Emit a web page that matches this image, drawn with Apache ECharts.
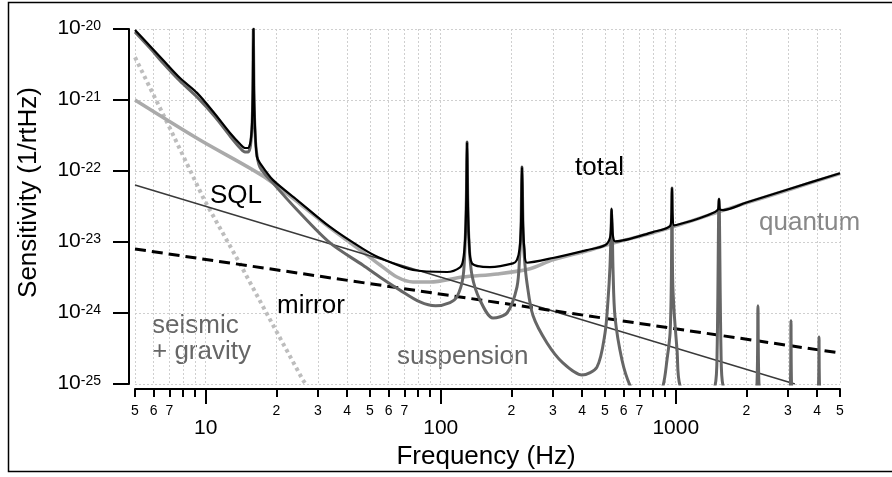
<!DOCTYPE html>
<html><head><meta charset="utf-8">
<script src="https://cdn.jsdelivr.net/npm/echarts@6/dist/echarts.min.js"></script>
<style>html,body{margin:0;padding:0;background:#fff}#c{width:892px;height:477px}</style>
</head><body><div id="c"></div>
<script>
// ---- tick values ----
const xMinorTicks = [5,6,7,8,9,10,20,30,40,50,60,70,80,90,100,200,300,400,500,600,700,800,900,1000,2000,3000,4000,5000];
const xMinorLabels = [5,6,7,20,30,40,50,60,70,200,300,400,500,600,700,2000,3000,4000,5000];
const xMajorLabels = [10,100,1000];
const yTicks = [1e-25,1e-24,1e-23,1e-22,1e-21,1e-20];

// ---- series values [frequency Hz, sensitivity 1/rtHz] ----
const seismic = [[5,4.0e-21],[7.04,4.0e-22],[9.86,3.9e-23],[14,4.9e-24],[18.8,8.0e-25],[25.9,1.14e-25],[26.6,1.0e-25]];
const sql = [[5,6.35e-23],[3215,1.0e-25]];
const mirror = [[5,7.97e-24],[5000,2.73e-25]];
const quantum = [[5,1e-21],[9.45,2.73e-22],[17.5,8.5e-23],[25.2,3.43e-23],[33.8,1.58e-23],[46.7,7.2e-24],[55.2,4.74e-24],[65.1,3.21e-24],[76.2,2.73e-24],[90,2.73e-24],[124,3.21e-24],[174,3.55e-24],[240,4.2e-24],[300,5.6e-24],[420,7.5e-24],[552,9.8e-24],[800,1.35e-23],[1043,1.76e-23],[1500,2.62e-23],[2000,3.55e-23],[3000,5.4e-23],[5000,9.2e-23]];
const suspension = [[5,9.1e-21],[5.79,5.4e-21],[6.58,3.32e-21],[7.77,1.85e-21],[9.18,1.1e-21],[10.95,5.8e-22],[12.69,3.11e-22],[14.0,2.11e-22],[14.7,1.85e-22],[15.13,1.85e-22],[15.43,2.1e-22],[15.6,2.8e-22],[15.75,4.5e-22],[15.86,1.3e-21],[15.95,1e-20],[16.04,1.3e-21],[16.18,4.2e-22],[16.4,2.0e-22],[17.0,1.14e-22],[19.3,6.8e-23],[24.5,2.82e-23],[33.8,9.7e-24],[46.7,4.7e-24],[55.2,3.2e-24],[67.1,2.1e-24],[81.6,1.43e-24],[95,1.26e-24],[109.5,1.4e-24],[117.3,1.7e-24],[124.4,3.2e-24],[127,1e-23],[128.5,4e-23],[129.4,2.56e-22],[130.3,4e-23],[131.9,1e-23],[135.8,3.4e-24],[146.9,1.52e-24],[166.9,8.5e-25],[191.4,1.0e-24],[211,2.32e-24],[216.5,6e-24],[219.5,1.6e-23],[221.7,1.14e-22],[224,1.6e-23],[227,6e-24],[232.8,2.65e-24],[246.9,9.2e-25],[283.3,3.78e-25],[331,1.98e-25],[399,1.34e-25],[462,1.73e-25],[500,5.2e-25],[515,1.52e-24],[525,4.5e-24],[531,1.5e-23],[533.5,2.92e-23],[537,1.5e-23],[541,4e-24],[551.5,8.8e-25],[590.5,2.18e-25],[639,9.5e-26],[700,6e-26],[820,6e-26],[883,9.5e-26],[918,2.2e-25],[946,5.2e-25],[958,3e-24],[964,5.76e-23],[970,3e-24],[985,1e-24],[1013,3e-25],[1043,9.5e-26],[1200,6e-26],[1470,9.5e-26],[1500,3e-25],[1528,4.03e-23],[1558,3e-25],[1589,9.5e-26],[1900,6e-26],[2215,9.5e-26],[2238,1.26e-24],[2262,9.5e-26],[2700,6e-26],[3075,9.5e-26],[3093,7.8e-25],[3111,9.5e-26],[3700,6e-26],[4050,9.5e-26],[4071,4.6e-25],[4092,9.5e-26],[5000,6e-26]];
const total = [[5,9.7e-21],[5.79,5.76e-21],[6.58,3.66e-21],[7.77,2.04e-21],[9.18,1.26e-21],[10.95,6.35e-22],[12.69,3.43e-22],[14.0,2.4e-22],[14.7,2.11e-22],[15.13,2.11e-22],[15.43,2.4e-22],[15.6,3.0e-22],[15.75,4.9e-22],[15.86,1.4e-21],[15.95,1e-20],[16.04,1.4e-21],[16.18,4.6e-22],[16.5,1.6e-22],[17.0,1.3e-22],[19.3,7.5e-23],[24.5,3.9e-23],[33.8,1.63e-23],[46.7,8e-24],[55.2,5.95e-24],[76.2,4.03e-24],[106.4,3.78e-24],[120.8,4.4e-24],[124.4,5.5e-24],[127,1.1e-23],[128.5,4.2e-23],[129.4,2.56e-22],[130.3,4.2e-23],[131.9,1.1e-23],[135.8,5.0e-24],[162,4.44e-24],[203,5.0e-24],[211,5.6e-24],[216.5,8e-24],[219.5,1.7e-23],[221.7,1.14e-22],[224,1.7e-23],[227,8e-24],[232.8,5.1e-24],[300,5.95e-24],[419,7.7e-24],[500,9.0e-24],[525,1.15e-23],[531,1.9e-23],[533.5,2.92e-23],[536,1.9e-23],[541,1.2e-23],[552,1.02e-23],[800,1.38e-23],[946,1.68e-23],[958,2.3e-23],[964,5.76e-23],[970,2.3e-23],[985,1.72e-23],[1043,1.79e-23],[1270,2.18e-23],[1470,2.65e-23],[1515,2.9e-23],[1528,4.03e-23],[1541,2.9e-23],[1589,2.82e-23],[2000,3.6e-23],[3000,5.5e-23],[5000,9.3e-23]];

const FONT = '"Liberation Sans", Arial, Helvetica, sans-serif';
function leadDigit(v){ const e = Math.floor(Math.log10(v) + 1e-9); return String(Math.round(v / Math.pow(10, e))); }

const chart = echarts.init(document.getElementById('c'), null, {renderer:'canvas'});
function lineSeries(name, data, color, width, type, z, smooth){
  return {name, type:'line', data, xAxisIndex:0, yAxisIndex:0, symbol:'none', showSymbol:false,
    smooth: smooth || false, clip:true, z,
    lineStyle:{color, width, type: type || 'solid', join:'round', cap:'butt'}, emphasis:{disabled:true}, silent:true};
}
const xBase = {type:'log', logBase:10, min:5, max:5000, position:'bottom', offset:5, gridIndex:0};
const option = {
  animation:false,
  textStyle:{fontFamily:FONT},
  grid:{left:135, right:52, top:29, bottom:93, containLabel:false},
  xAxis:[
    Object.assign({}, xBase, {
      axisLine:{show:true, onZero:false, lineStyle:{color:'#000', width:2}},
      axisTick:{show:true, customValues:xMinorTicks, length:8, lineStyle:{color:'#000', width:2}},
      axisLabel:{show:true, customValues:xMinorLabels, formatter:leadDigit, fontSize:14, color:'#000', margin:15, fontFamily:FONT},
      splitLine:{show:true, lineStyle:{color:'#cfcfcf', width:1, type:[2,2]}},
      minorTick:{show:false}, minorSplitLine:{show:false}
    }),
    Object.assign({}, xBase, {
      axisLine:{show:false, onZero:false},
      axisTick:{show:true, customValues:xMajorLabels, length:15, lineStyle:{color:'#000', width:2}},
      axisLabel:{show:true, customValues:xMajorLabels, formatter:(v)=>String(Math.round(v)), fontSize:21, color:'#000', margin:29, fontFamily:FONT},
      splitLine:{show:false}, minorTick:{show:false}
    })
  ],
  yAxis:{type:'log', logBase:10, min:1e-25, max:1e-20, offset:6, position:'left',
    axisLine:{show:true, onZero:false, lineStyle:{color:'#000', width:2}},
    axisTick:{show:true, customValues:yTicks, length:16, lineStyle:{color:'#000', width:2}},
    axisLabel:{show:true, customValues:yTicks, margin:28, color:'#000',
      formatter:(v)=>'{b|10}{s|' + Math.round(Math.log10(v)) + '}',
      rich:{b:{fontSize:21, lineHeight:19, verticalAlign:'bottom', fontFamily:FONT, color:'#000'},
            s:{fontSize:14, lineHeight:14, verticalAlign:'top', padding:[0,0,12,0], fontFamily:FONT, color:'#000'}}},
    splitLine:{show:true, lineStyle:{color:'#cfcfcf', width:1, type:[2,2]}},
    minorTick:{show:false}
  },
  series:[
    lineSeries('seismic', seismic, '#bdbdbd', 4, [3.5,3.5], 2, false),
    lineSeries('quantum', quantum, '#aaaaaa', 3.5, 'solid', 3, 0.3),
    lineSeries('SQL', sql, '#3a3a3a', 1.5, 'solid', 4),
    lineSeries('mirror', mirror, '#000000', 3, [11,6], 5),
    lineSeries('suspension', suspension, '#666666', 3, 'solid', 6, 0.3),
    lineSeries('total', total, '#000000', 2.2, 'solid', 7, 0.3)
  ],
  graphic:[
    {type:'rect', silent:true, shape:{x:8.5, y:2.5, width:890, height:469}, style:{fill:'none', stroke:'#000', lineWidth:1.5}},
    {type:'text', silent:true, x:575, y:168, style:{text:'total', fill:'#000', fontSize:26, fontFamily:FONT, align:'left', verticalAlign:'middle'}},
    {type:'text', silent:true, x:210, y:196, style:{text:'SQL', fill:'#000', fontSize:26, fontFamily:FONT, align:'left', verticalAlign:'middle'}},
    {type:'text', silent:true, x:277, y:306, style:{text:'mirror', fill:'#000', fontSize:26, fontFamily:FONT, align:'left', verticalAlign:'middle'}},
    {type:'text', silent:true, x:152, y:326, style:{text:'seismic', fill:'#666', fontSize:26, fontFamily:FONT, align:'left', verticalAlign:'middle'}},
    {type:'text', silent:true, x:152, y:352, style:{text:'+ gravity', fill:'#666', fontSize:26, fontFamily:FONT, align:'left', verticalAlign:'middle'}},
    {type:'text', silent:true, x:397, y:357, style:{text:'suspension', fill:'#666', fontSize:26, fontFamily:FONT, align:'left', verticalAlign:'middle'}},
    {type:'text', silent:true, x:759, y:223, style:{text:'quantum', fill:'#888', fontSize:26, fontFamily:FONT, align:'left', verticalAlign:'middle'}},
    {type:'text', silent:true, x:486, y:457, style:{text:'Frequency (Hz)', fill:'#000', fontSize:26, fontFamily:FONT, align:'center', verticalAlign:'middle'}},
    {type:'text', silent:true, x:29, y:192.5, rotation:Math.PI/2, style:{text:'Sensitivity (1/rtHz)', fill:'#000', fontSize:26, fontFamily:FONT, align:'center', verticalAlign:'middle'}}
  ]
};
chart.setOption(option);
</script>
</body></html>
